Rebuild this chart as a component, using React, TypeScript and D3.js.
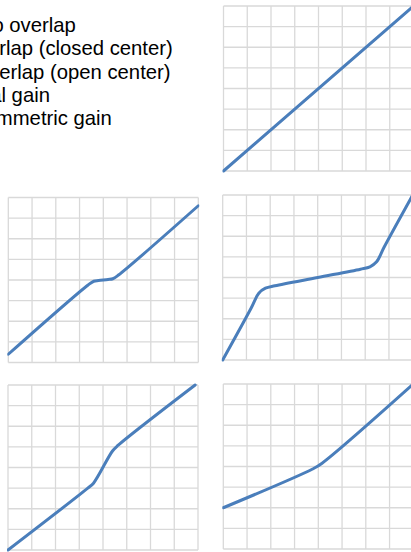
import React from 'react';
import * as d3 from 'd3';

// legend text (left part is cut off in the original)
const legendItems = [
  'Zero overlap',
  'Overlap (closed center)',
  'Underlap (open center)',
  'Ideal gain',
  'Asymmetric gain',
];

// grid lines, normalized -1..1, 8 divisions
const gridTicks = [-1, -0.75, -0.5, -0.25, 0, 0.25, 0.5, 0.75, 1];

// curves, [input, output]
const zeroOverlap: [number, number][] = [[-1, -1], [1, 1]];

const closedCenter: [number, number][] = [
  [-1, -0.9], [-0.16, -0.06], [-0.1, -0.015], [-0.05, -0.006],
  [0.05, 0.006], [0.1, 0.015], [0.16, 0.06], [1, 0.9],
];

const dualGain: [number, number][] = [
  [-1, -1], [-0.7, -0.37], [-0.62, -0.19], [-0.55, -0.13], [-0.45, -0.1],
  [0, 0], [0.45, 0.1], [0.55, 0.13], [0.62, 0.19], [0.7, 0.37], [1, 1],
];

const openCenter: [number, number][] = [
  [-1, -1], [-0.16, -0.25], [-0.1, -0.19], [0.1, 0.2], [0.16, 0.27], [0.97, 1],
];

const asymmetricGain: [number, number][] = [
  [-1, -0.5], [-0.06, -0.03], [0.04, 0.04], [1, 1],
];

const W = 190;
const H = 165;
const panels = [
  { id: 'p1', data: zeroOverlap, x: 223.5, y: 6 },
  { id: 'p2', data: closedCenter, x: 8.3, y: 197.5 },
  { id: 'p3', data: dualGain, x: 222.7, y: 195 },
  { id: 'p4', data: openCenter, x: 8, y: 385 },
  { id: 'p5', data: asymmetricGain, x: 223.3, y: 384 },
];

const LINE_COLOR = '#4a7ebb';
const GRID_COLOR = '#d9d9d9';

const Panel = ({ id, data, x, y }: { id: string; data: [number, number][]; x: number; y: number }) => {
  const xScale = d3.scaleLinear().domain([-1, 1]).range([x, x + W]);
  const yScale = d3.scaleLinear().domain([-1, 1]).range([y + H, y]);
  const line = d3.line<[number, number]>()
    .x(d => xScale(d[0]))
    .y(d => yScale(d[1]))
    .curve(d3.curveCatmullRom.alpha(0.5));

  return (
    <g>
      <clipPath id={`clip-${id}`}>
        <rect x={x - 1} y={y - 2} width={W + 2} height={H + 4} />
      </clipPath>
      {gridTicks.map(t => (
        <line key={`v${t}`} x1={xScale(t)} x2={xScale(t)} y1={y} y2={y + H}
          stroke={GRID_COLOR} strokeWidth={1.3} />
      ))}
      {gridTicks.map(t => (
        <line key={`h${t}`} x1={x} x2={x + W} y1={yScale(t)} y2={yScale(t)}
          stroke={GRID_COLOR} strokeWidth={1.3} />
      ))}
      <path d={line(data) || ''} fill="none" stroke={LINE_COLOR} strokeWidth={3}
        strokeLinecap="round" strokeLinejoin="round" clipPath={`url(#clip-${id})`} />
    </g>
  );
};

export default function App() {
  return (
    <svg width={411} height={552} style={{ position: 'absolute', left: 0, top: 0, background: '#fff' }}>
      <g fontFamily="'Liberation Sans', Arial, sans-serif" fontSize={20.3} fill="#000">
        {legendItems.map((t, i) => (
          <text key={t} x={-38} y={31.7 + i * 23.4}>{t}</text>
        ))}
      </g>
      {panels.map(p => <Panel key={p.id} {...p} />)}
    </svg>
  );
}
